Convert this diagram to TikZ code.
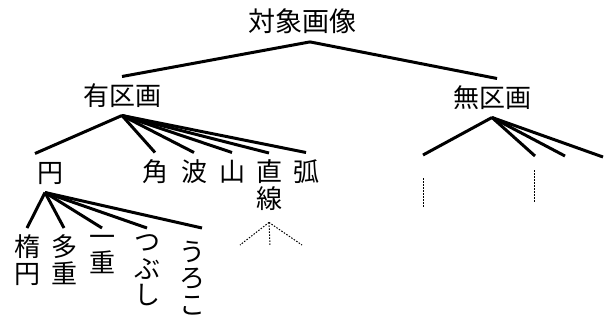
\documentclass[tikz,border=0pt]{standalone}
\usepackage{fontspec}
\newfontfamily\jpfont{Noto Sans CJK JP}
\begin{document}
\begin{tikzpicture}[x=1pt,y=-1pt,
  lbl/.style={inner sep=0pt,outer sep=7pt,align=center,
    font=\jpfont\fontsize{26}{26.5}\selectfont,
    execute at begin node={\rule{0pt}{22pt}},
    execute at end node={\rule[-3pt]{0pt}{3pt}}},
  branch/.style={line width=3pt},
  hidden/.style={line width=1pt,dash pattern=on 1.5pt off 1.5pt}]
  \useasboundingbox (0,0) rectangle (608,325);
  %\draw[step=10pt,gray,very thin] (0,0) grid (608,325);
  \node[lbl,font=\jpfont\fontsize{27}{27}\selectfont] (Obj) at (302,22) {対象画像};
  \node[lbl] (Yu) at (122,96) {有区画};
  \node[lbl] (Mu) at (492,98) {無区画};
  % children of Yu
  \node[lbl] (En) at (50,173) {円};
  \node[lbl] (Kaku) at (155,172) {角};
  \node[lbl] (Nami) at (194,172) {波};
  \node[lbl] (Yama) at (232,172) {山};
  \node[lbl,anchor=north] (Choku) at (269,153) {直\\線};
  \node[lbl] (Ko) at (306,172) {弧};
  % children of En
  \node[lbl,anchor=north] (Daen) at (27,228) {楕\\円};
  \node[lbl,anchor=north] (Tajuu) at (64,228) {多\\重};
  \node[lbl,anchor=north] (Ichijuu) at (102,228) {一\\重};
  \node[lbl,anchor=north] (Tsubu) at (147,228) {つ\\ぶ\\し};
  \node[lbl,anchor=north] (Uroko) at (192,234) {う\\ろ\\こ};
  % free ends
  \coordinate (MuA) at (423,155);
  \coordinate (MuB) at (535,156);
  \coordinate (MuC) at (565,156);
  \coordinate (MuD) at (603,157);
  \coordinate (MuAtop) at (423,178);
  \coordinate (MuAbot) at (423,207);
  \coordinate (MuBtop) at (534,170);
  \coordinate (MuBbot) at (534,202);
  \coordinate (SenL) at (240,245);
  \coordinate (SenM) at (270,245);
  \coordinate (SenR) at (302,245);

  \draw[branch] ([xshift=8pt]Obj.south) -- (Yu.north);
  \draw[branch] ([xshift=8pt]Obj.south) -- ([xshift=5pt]Mu.north);
  \draw[branch] (Yu.south) -- ([xshift=-15pt]En.north);
  \foreach \c in {Kaku,Nami,Yama,Choku,Ko}
    \draw[branch] (Yu.south) -- (\c.north);
  \foreach \c in {Daen,Tajuu,Ichijuu,Tsubu}
    \draw[branch] ([xshift=-5pt]En.south) -- (\c.north);
  \draw[branch] ([xshift=-5pt]En.south) -- ([xshift=10pt,yshift=6pt]Uroko.north);
  \foreach \c in {MuA,MuB,MuC,MuD}
    \draw[branch] (Mu.south) -- (\c);
  \draw[hidden] (MuAtop) -- (MuAbot);
  \draw[hidden] (MuBtop) -- (MuBbot);
  \foreach \c in {SenL,SenM,SenR}
    \draw[hidden] ([yshift=-4pt]Choku.south) -- (\c);
\end{tikzpicture}
\end{document}
